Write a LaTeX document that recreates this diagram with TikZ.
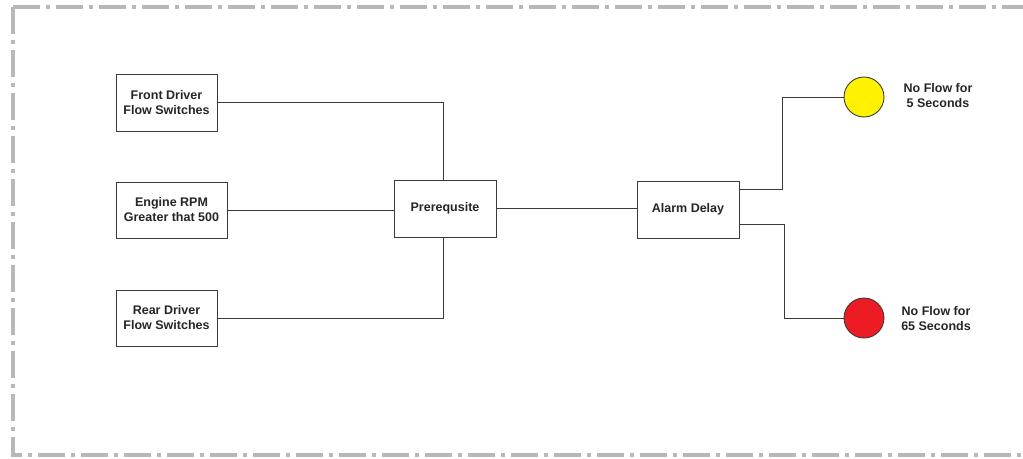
\documentclass[tikz,border=0pt]{standalone}
\usepackage{fontspec}
\setmainfont{Liberation Sans}
\definecolor{linec}{HTML}{3A3A3A}
\definecolor{framec}{HTML}{B8B8B8}
\definecolor{yel}{HTML}{FFF200}
\definecolor{redc}{HTML}{ED1C24}
\begin{document}
\begin{tikzpicture}[x=1pt,y=-1pt,
  lbl/.style={font=\bfseries\fontsize{12.5}{15}\selectfont, align=center, text=black!85},
  box/.style={lbl, draw=linec, line width=0.9pt, fill=white, inner sep=0pt},
  lamp/.style={circle, draw=linec, line width=0.9pt, minimum size=40pt, inner sep=0pt},
  wire/.style={draw=linec, line width=0.9pt},
  frame/.style={draw=framec, line width=4pt, dash pattern=on 27pt off 6pt on 4pt off 6pt}]
\useasboundingbox (0,0) rectangle (1023,458);
\begin{scope}
\clip (0,0) rectangle (1023,458);
\draw[frame] (13,7) -- (1040,7);
\draw[frame] (13,7) -- (13,455) -- (1040,455);
\end{scope}
% boxes
\node[box, minimum width=101pt, minimum height=57pt] (front) at (166.5,102.5) {Front Driver\\Flow Switches};
\node[box, minimum width=111pt, minimum height=56pt] (eng) at (171.5,210) {Engine RPM\\Greater that 500};
\node[box, minimum width=101pt, minimum height=56pt] (rear) at (166.5,318) {Rear Driver\\Flow Switches};
\node[box, minimum width=102pt, minimum height=57pt] (pre) at (445,208.5) {Prerequsite};
\node[box, minimum width=102pt, minimum height=57pt] (alarm) at (688,209.5) {Alarm Delay};
% lamps
\node[lamp, fill=yel] (y5) at (864,97) {};
\node[lamp, fill=redc] (r65) at (864,318) {};
\node[lbl] (t5) at (938,96) {No Flow for\\5 Seconds};
\node[lbl] (t65) at (936,319) {No Flow for\\65 Seconds};
% wires
\draw[wire] (front.east) -| ([xshift=-2pt]pre.north);
\draw[wire] (eng.east) -- (eng.east -| pre.west);
\draw[wire] (rear.east) -| ([xshift=-2pt]pre.south);
\draw[wire] (pre.east) -- (pre.east -| alarm.west);
\draw[wire] ([yshift=20pt]alarm.east) -- ++(43,0) |- (y5.west);
\draw[wire] ([yshift=-14.5pt]alarm.east) -- ++(45,0) |- (r65.west);
\end{tikzpicture}
\end{document}
